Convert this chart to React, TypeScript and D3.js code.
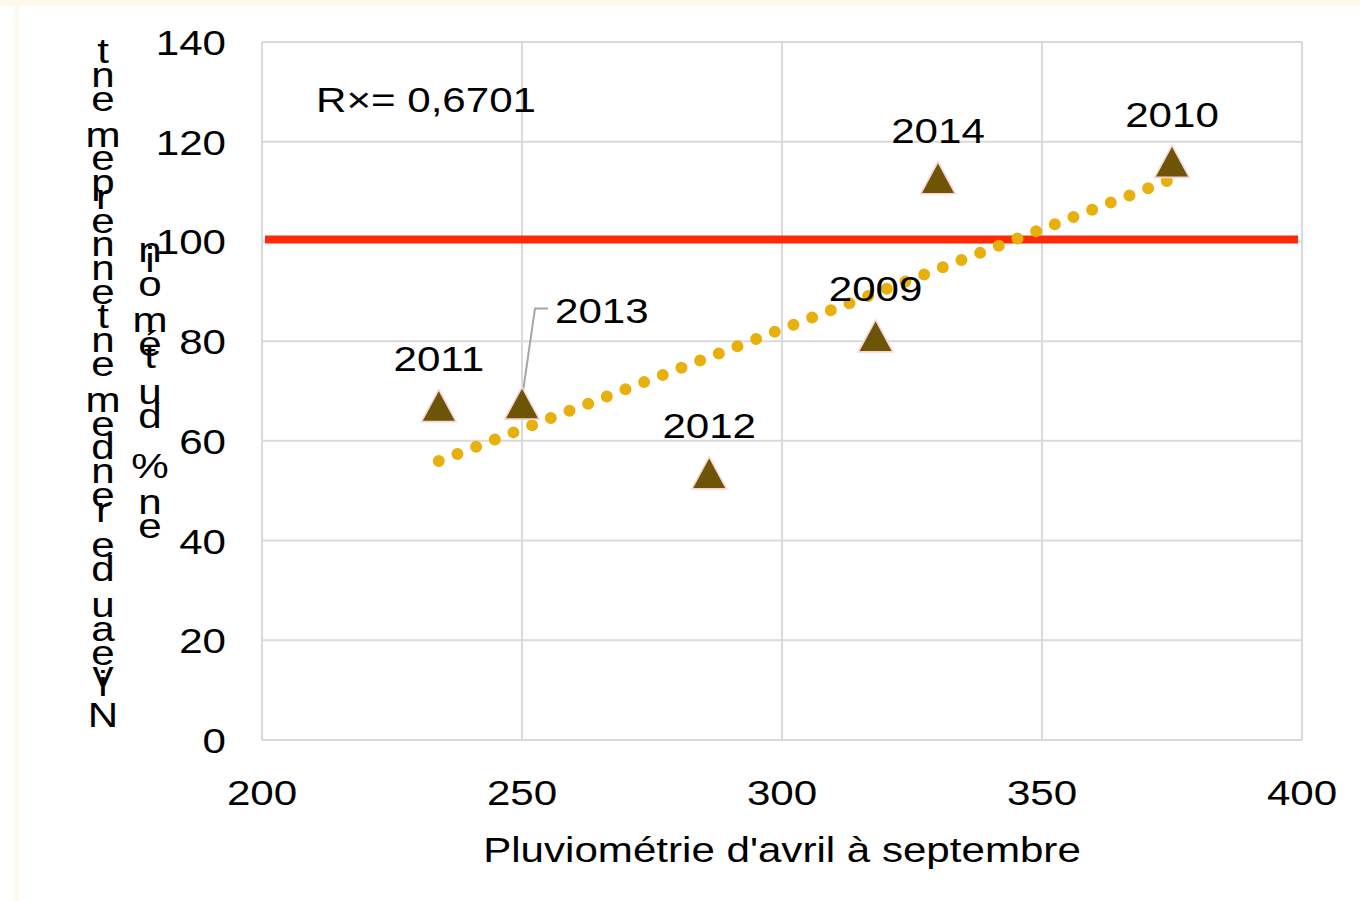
import React, { useMemo } from 'react';
import * as d3 from 'd3';

// values
const years = ['2009', '2010', '2011', '2012', '2013', '2014'];
const rainfall = [318, 375, 234, 286, 250, 330];
const yieldPct = [80, 115, 66, 52.5, 66.5, 111.7];

const xTicks = [200, 250, 300, 350, 400];
const yTicks = [0, 20, 40, 60, 80, 100, 120, 140];
const referenceLevel = 100;
const r2Label = 'R×= 0,6701';
const xTitle = "Pluviométrie d'avril à septembre";
// the y title is drawn glyph by glyph, read from bottom to top
const yTitleLines = ['Niveau de rendement ennerpement', 'en % du témoin'];

const FONT = "'Liberation Sans', Arial, Helvetica, sans-serif";
const SX = 1.17; // the source picture is stretched horizontally

const width = 1360;
const height = 901;
const margin = { top: 42, right: 58, bottom: 161, left: 262 };

const T: React.FC<{ x: number; y: number; anchor?: string; size?: number; children: React.ReactNode }> = ({
  x,
  y,
  anchor = 'start',
  size = 36,
  children,
}) => (
  <text
    transform={`translate(${x},${y}) scale(${SX},1)`}
    textAnchor={anchor}
    fontFamily={FONT}
    fontSize={size}
    fill="#000"
  >
    {children}
  </text>
);

const App: React.FC = () => {
  const x = d3.scaleLinear().domain([200, 400]).range([margin.left, width - margin.right]);
  const y = d3.scaleLinear().domain([0, 140]).range([height - margin.bottom, margin.top]);

  const points = years.map((yr, i) => ({ year: yr, x: rainfall[i], y: yieldPct[i] }));

  // linear trend (least squares)
  const mx = d3.mean(points, (d) => d.x)!;
  const my = d3.mean(points, (d) => d.y)!;
  const sxy = d3.sum(points, (d) => (d.x - mx) * (d.y - my));
  const sxx = d3.sum(points, (d) => (d.x - mx) ** 2);
  const slope = sxy / sxx;
  const trend = (v: number) => my + slope * (v - mx);
  const [xMin, xMax] = d3.extent(points, (d) => d.x) as [number, number];
  const trendPath = d3.line<number>()
    .x((v) => x(v))
    .y((v) => y(trend(v)))([xMin, xMax]);

  const tri = d3.symbol().type(d3.symbolTriangle).size(470)()!;

  // glyph layout for the broken vertical title
  const glyphs = useMemo(() => {
    const canvas = document.createElement('canvas');
    const ctx = canvas.getContext('2d')!;
    ctx.font = `36px ${FONT}`;
    const cols = [
      { text: yTitleLines[0], cx: 103, bottom: 727, top: 63 },
      { text: yTitleLines[1], cx: 150, bottom: 538, top: 262 },
    ];
    const out: { ch: string; x: number; y: number }[] = [];
    cols.forEach((c) => {
      const chars = Array.from(c.text);
      const adv = chars.map((ch) => ctx.measureText(ch).width);
      const span = d3.sum(adv) - adv[adv.length - 1];
      let cum = 0;
      chars.forEach((ch, i) => {
        const yy = c.bottom - (cum / span) * (c.bottom - c.top);
        cum += adv[i];
        if (ch !== ' ') out.push({ ch, x: c.cx, y: yy });
      });
    });
    return out;
  }, []);

  const gridColor = '#d9d9d9';
  const labelOffset = -40;

  return (
    <svg
      width={width}
      height={height}
      style={{ position: 'absolute', left: 0, top: 0, background: '#fff' }}
    >
      {/* faint frame of the original slide */}
      <rect x={0} y={0} width={width} height={6} fill="#fff8ec" />
      <rect x={14} y={6} width={5} height={height - 6} fill="#fffaf0" />

      {/* grid */}
      {xTicks.map((t) => (
        <line key={'gx' + t} x1={x(t)} x2={x(t)} y1={y(140)} y2={y(0)} stroke={gridColor} strokeWidth={2} />
      ))}
      {yTicks.map((t) => (
        <line key={'gy' + t} x1={x(200)} x2={x(400)} y1={y(t)} y2={y(t)} stroke={gridColor} strokeWidth={2} />
      ))}

      {/* tick labels */}
      {yTicks.map((t) => (
        <T key={'ty' + t} x={x(200) - 36} y={y(t) + 13} anchor="end">
          {t}
        </T>
      ))}
      {xTicks.map((t) => (
        <T key={'tx' + t} x={x(t)} y={y(0) + 65} anchor="middle">
          {t}
        </T>
      ))}

      {/* titles */}
      <T x={(x(200) + x(400)) / 2} y={y(0) + 122} anchor="middle">
        {xTitle}
      </T>
      {glyphs.map((g, i) => (
        <T key={'g' + i} x={g.x} y={g.y} anchor="middle">
          {g.ch}
        </T>
      ))}

      {/* reference line at 100 % */}
      <line
        x1={x(200) + 3}
        x2={x(400) - 4}
        y1={y(referenceLevel) - 2}
        y2={y(referenceLevel) - 2}
        stroke="#ff2a05"
        strokeWidth={8}
      />

      {/* dotted trend line */}
      <path
        d={trendPath!}
        fill="none"
        stroke="#e8b00c"
        strokeWidth={12}
        strokeLinecap="round"
        strokeDasharray="0 20"
      />

      {/* leader line of the 2013 label */}
      {points
        .filter((d) => d.year === '2013')
        .map((d) => (
          <polyline
            key="leader"
            points={`${x(d.x)},${y(d.y) - 10} ${x(d.x) + 13},${y(d.y) - 100} ${x(d.x) + 26},${y(d.y) - 100}`}
            fill="none"
            stroke="#a6a6a6"
            strokeWidth={2}
          />
        ))}

      {/* markers */}
      {points.map((d) => (
        <path
          key={d.year}
          d={tri}
          transform={`translate(${x(d.x)},${y(d.y)}) scale(1.05,1.12)`}
          fill="#6e5406"
          stroke="#f9d4d2"
          strokeWidth={1.5}
        />
      ))}

      {/* point labels */}
      {points.map((d) =>
        d.year === '2013' ? (
          <T key={'l' + d.year} x={x(d.x) + 33} y={y(d.y) - 85}>
            {d.year}
          </T>
        ) : (
          <T key={'l' + d.year} x={x(d.x)} y={y(d.y) + labelOffset} anchor="middle">
            {d.year}
          </T>
        )
      )}

      <T x={316} y={112}>
        {r2Label}
      </T>
    </svg>
  );
};

export default App;
